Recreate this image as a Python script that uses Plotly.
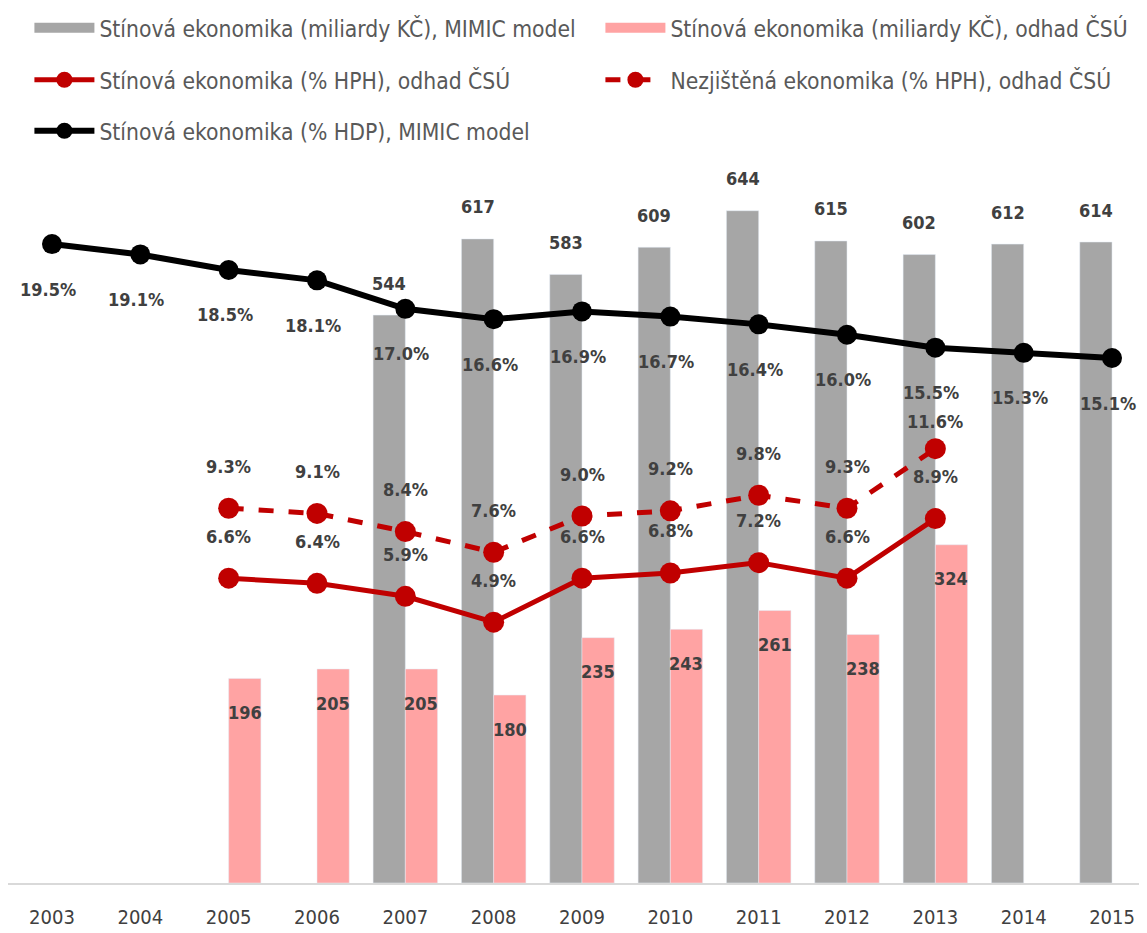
import plotly.graph_objects as go

years = [2003, 2004, 2005, 2006, 2007, 2008, 2009, 2010, 2011, 2012, 2013, 2014, 2015]
mimic_bn = [None, None, None, None, 544, 617, 583, 609, 644, 615, 602, 612, 614]
csu_bn = [None, None, 196, 205, 205, 180, 235, 243, 261, 238, 324, None, None]
hph_shadow = [None, None, 6.6, 6.4, 5.9, 4.9, 6.6, 6.8, 7.2, 6.6, 8.9, None, None]
hph_nonobs = [None, None, 9.3, 9.1, 8.4, 7.6, 9.0, 9.2, 9.8, 9.3, 11.6, None, None]
hdp_mimic = [19.5, 19.1, 18.5, 18.1, 17.0, 16.6, 16.9, 16.7, 16.4, 16.0, 15.5, 15.3, 15.1]

names = [
    "Stínová ekonomika (miliardy KČ), MIMIC model",
    "Stínová ekonomika (miliardy KČ), odhad ČSÚ",
    "Stínová ekonomika (% HPH), odhad ČSÚ",
    "Nezjištěná ekonomika (% HPH), odhad ČSÚ",
    "Stínová ekonomika (% HDP), MIMIC model",
]

FONT = "Liberation Sans Narrow, DejaVu Sans Condensed, Arial Narrow, sans-serif"
GRAY = "#a6a6a6"
PINK = "#ffa3a3"
RED = "#c00000"
LBL = "#404040"

fig = go.Figure()
fig.add_trace(go.Bar(x=years, y=mimic_bn, name=names[0], marker_color=GRAY, showlegend=False))
fig.add_trace(go.Bar(x=years, y=csu_bn, name=names[1], marker_color=PINK, showlegend=False))
# legend-only swatches for the bar series (wide rectangles like the original)
fig.add_trace(go.Scatter(x=[None], y=[None], name=names[0], mode="lines",
                         line=dict(color=GRAY, width=14), legend="legend"))
fig.add_trace(go.Scatter(x=[None], y=[None], name=names[1], mode="lines",
                         line=dict(color=PINK, width=14), legend="legend"))
fig.add_trace(go.Scatter(x=years, y=hph_shadow, name=names[2], yaxis="y2", mode="lines+markers",
                         line=dict(color=RED, width=5), marker=dict(size=21, color=RED),
                         legend="legend2"))
fig.add_trace(go.Scatter(x=years, y=hph_nonobs, name=names[3], yaxis="y2", mode="lines+markers",
                         line=dict(color=RED, width=5, dash="dash"), marker=dict(size=21, color=RED),
                         legend="legend2"))
fig.add_trace(go.Scatter(x=years, y=hdp_mimic, name=names[4], yaxis="y2", mode="lines+markers",
                         line=dict(color="black", width=6), marker=dict(size=20, color="black"),
                         legend="legend3"))

ann = []
lblfont = dict(family=FONT, size=18, color=LBL)
for x, v in zip(years, mimic_bn):
    if v is not None:
        ann.append(dict(x=x, y=v, xref="x", yref="y", text=f"<b>{v}</b>", showarrow=False,
                        xshift=-16, yshift=32, font=lblfont))
for x, v in zip(years, csu_bn):
    if v is not None:
        ann.append(dict(x=x, y=v, xref="x", yref="y", text=f"<b>{v}</b>", showarrow=False,
                        xshift=16, yshift=-34, font=lblfont))
for x, v in zip(years, hdp_mimic):
    ann.append(dict(x=x, y=v, xref="x", yref="y2", text=f"<b>{v:.1f}%</b>", showarrow=False,
                    xshift=-4, yshift=-45, font=lblfont))
for x, v in zip(years, hph_shadow):
    if v is not None:
        ann.append(dict(x=x, y=v, xref="x", yref="y2", text=f"<b>{v:.1f}%</b>", showarrow=False,
                        yshift=42, font=lblfont))
last_nonobs = max(i for i, v in enumerate(hph_nonobs) if v is not None)
for i, (x, v) in enumerate(zip(years, hph_nonobs)):
    if v is not None:
        ann.append(dict(x=x, y=v, xref="x", yref="y2", text=f"<b>{v:.1f}%</b>", showarrow=False,
                        yshift=27 if i == last_nonobs else 42, font=lblfont))

legfont = dict(family=FONT, size=22.7, color="#595959")
common_leg = dict(orientation="h", xanchor="left", yanchor="middle", font=legfont,
                  entrywidth=496, entrywidthmode="pixels", bgcolor="rgba(0,0,0,0)",
                  itemwidth=60, traceorder="normal")

# the page body adds an 8px offset; figure coordinates below are page coordinates minus 8
PLOT_TOP, PLOT_H = 162, 713
FIG_W, FIG_H = 1139, 925
LEG_X = 0.0188
fig.update_layout(
    width=FIG_W, height=FIG_H,
    margin=dict(l=0, r=0, t=PLOT_TOP, b=FIG_H - PLOT_TOP - PLOT_H, autoexpand=False),
    paper_bgcolor="white", plot_bgcolor="white",
    barmode="group", bargap=0.27, bargroupgap=0,
    font=dict(family=FONT, color=LBL),
    xaxis=dict(type="linear", range=[2002.502, 2015.396], tickvals=years, ticktext=[str(y) for y in years],
               automargin=False,
               showgrid=False, zeroline=False, showline=True, linecolor="#d9d9d9", linewidth=2,
               ticks="", ticklabelstandoff=15, tickfont=dict(family=FONT, size=20, color="#404040")),
    yaxis=dict(range=[0, 683], visible=False, showgrid=False, automargin=False),
    yaxis2=dict(range=[-5.17, 22.36], overlaying="y", visible=False, showgrid=False, automargin=False),
    legend=dict(x=LEG_X, y=1 + (PLOT_TOP - 20) / PLOT_H, **common_leg),
    legend2=dict(x=LEG_X, y=1 + (PLOT_TOP - 72) / PLOT_H, **common_leg),
    legend3=dict(x=LEG_X, y=1 + (PLOT_TOP - 123) / PLOT_H, **common_leg),
    annotations=ann,
    showlegend=True,
)

fig.write_html("out.html")
